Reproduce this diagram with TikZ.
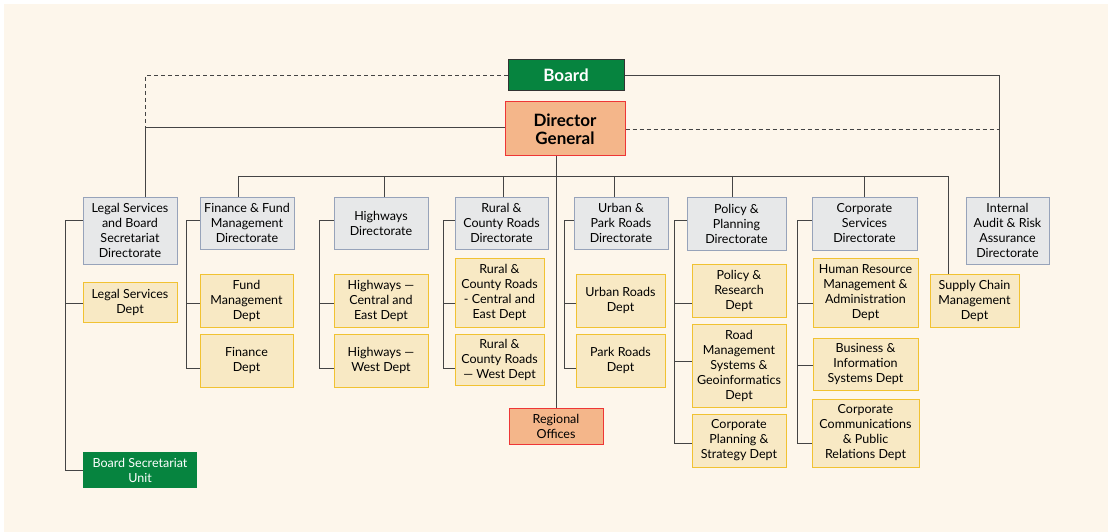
\documentclass[tikz,border=0pt]{standalone}
\usepackage{fontspec}
\setmainfont{Lato}
\usepackage{tikz}
\usetikzlibrary{positioning, calc}

\definecolor{cream}{HTML}{FDF6EB}
\definecolor{dirfill}{HTML}{E7E8E9}
\definecolor{dirline}{HTML}{97A3BA}
\definecolor{deptfill}{HTML}{F8E9C4}
\definecolor{deptline}{HTML}{F1C232}
\definecolor{dgfill}{HTML}{F4B68A}
\definecolor{dgline}{HTML}{EE3636}
\definecolor{boardgreen}{HTML}{06843F}
\definecolor{wire}{HTML}{444444}

\begin{document}
\begin{tikzpicture}[x=1pt, y=-1pt,
    every node/.style = {shape=rectangle, align=center, inner sep=1pt, font=\fontsize{12.5}{15}\selectfont},
    size/.style 2 args = {minimum width=#1pt, minimum height=#2pt},
    dir/.style = {draw=dirline, fill=dirfill, line width=1pt},
    dept/.style = {draw=deptline, fill=deptfill, line width=1pt},
    head/.style = {draw=dgline, fill=dgfill, line width=1pt},
    green/.style = {fill=boardgreen, text=white},
    wire/.style = {draw=wire, line width=0.9pt},
    dotline/.style = {dash pattern=on 4pt off 3pt}]
    \useasboundingbox (0,0) rectangle (1114,532);
    \fill[cream] (4,4) rectangle (1108,532);

    % top
    \node[green, draw=black!80, line width=1pt, size={116}{31}, font=\fontsize{17}{18}\selectfont\bfseries] (board) at (566,75.5) {Board};
    \node[head, size={120}{54}, font=\fontsize{17}{18}\selectfont\bfseries] (dg) at (565,129) {Director\\General};

    % directorates
    \node[dir, size={94}{67}] (legal) at (130,230.5) {Legal Services\\and Board\\Secretariat\\Directorate};
    \node[dir, size={94}{52}] (fin) at (247,223) {Finance \& Fund\\Management\\Directorate};
    \node[dir, size={94}{52}] (hwy) at (381,223) {Highways\\Directorate};
    \node[dir, size={93}{52}] (rural) at (501.5,223) {Rural \&\\County Roads\\Directorate};
    \node[dir, size={94}{52}] (urban) at (621,223) {Urban \&\\Park Roads\\Directorate};
    \node[dir, size={99}{53}] (policy) at (736.5,223.5) {Policy \&\\Planning\\Directorate};
    \node[dir, size={105}{53}] (corp) at (864.5,223.5) {Corporate\\Services\\Directorate};
    \node[dir, size={83}{67}] (audit) at (1007.5,230.5) {Internal\\Audit \& Risk\\Assurance\\Directorate};

    % departments
    \node[dept, size={94}{40}] (legaldept) at (130,302) {Legal Services\\Dept};
    \node[green, size={114}{36}] (bsu) at (140,470) {Board Secretariat\\Unit};
    \node[dept, size={93}{53}] (fund) at (246.5,300.5) {Fund\\Management\\Dept};
    \node[dept, size={93}{53}] (finance) at (246.5,360.5) {Finance\\Dept};
    \node[dept, size={94}{53}] (hwyce) at (381,300.5) {Highways —\\Central and\\East Dept};
    \node[dept, size={94}{53}] (hwyw) at (381,360.5) {Highways —\\West Dept};
    \node[dept, size={89}{69}] (rurce) at (499.5,292.5) {Rural \&\\County Roads\\- Central and\\East Dept};
    \node[dept, size={89}{51}] (rurw) at (499.5,359.5) {Rural \&\\County Roads\\— West Dept};
    \node[head, size={94}{36}] (regional) at (556,426) {Regional\\Offices};
    \node[dept, size={89}{53}] (urbanr) at (620.5,300.5) {Urban Roads\\Dept};
    \node[dept, size={89}{53}] (parkr) at (620.5,360.5) {Park Roads\\Dept};
    \node[dept, size={94}{53}] (polres) at (739,290.5) {Policy \&\\Research\\Dept};
    \node[dept, size={94}{83}] (rms) at (739,365.5) {Road\\Management\\Systems \&\\Geoinformatics\\Dept};
    \node[dept, size={94}{53}] (cps) at (739,440.5) {Corporate\\Planning \&\\Strategy Dept};
    \node[dept, size={105}{69}] (hr) at (865.5,292.5) {Human Resource\\Management \&\\Administration\\Dept};
    \node[dept, size={105}{52}] (bis) at (865.5,364) {Business \&\\Information\\Systems Dept};
    \node[dept, size={107}{68}] (ccpr) at (865.5,433) {Corporate\\Communications\\\& Public\\Relations Dept};
    \node[dept, size={89}{53}] (scm) at (974.5,300.5) {Supply Chain\\Management\\Dept};

    % joints
    \coordinate (lj) at (145,127);
    \coordinate (aj) at (999,197);
    \coordinate (bus) at (238,176);
    \coordinate (busend) at (948,176);
    \coordinate (row1) at (0,303);
    \coordinate (row2) at (0,368);
    \coordinate (arm) at (0,220);

    % board and director general
    \draw[wire, dotline] (board.west) -| (lj);
    \draw[wire] (lj -| dg.west) -- (lj) -- (lj |- legal.north);
    \draw[wire] (board.east) -| (aj);
    \draw[wire, dotline] (dg.east) -- (dg.east -| aj);
    \draw[wire] (regional.north |- dg.south) -- (regional.north);

    % bus to directorates
    \draw[wire] (bus) -- (busend) -- (busend |- scm.north);
    \draw[wire] (bus) -- (bus |- fin.north);
    \foreach \dx/\d in {384/hwy, 503/rural, 614/urban, 732/policy, 864/corp}
        \draw[wire] (\dx,176) -- (\dx,197);

    % brackets to departments
    \draw[wire] (legal.west |- arm) -| (65,470) -- (bsu.west);
    \draw[wire] (65,303) -- (legaldept.west |- row1);
    \draw[wire] (fin.west |- arm) -| (186,368) -- (finance.west |- row2);
    \draw[wire] (186,303) -- (fund.west |- row1);
    \draw[wire] (hwy.west |- arm) -| (319,368) -- (hwyw.west |- row2);
    \draw[wire] (319,303) -- (hwyce.west |- row1);
    \draw[wire] (rural.west |- arm) -| (443,368) -- (rurw.west |- row2);
    \draw[wire] (443,303) -- (rurce.west |- row1);
    \draw[wire] (urban.west |- arm) -| (564,368) -- (parkr.west |- row2);
    \draw[wire] (564,303) -- (urbanr.west |- row1);
    \draw[wire] (policy.west |- arm) -| (674,443) -- (cps.west |- 0,443);
    \draw[wire] (674,303) -- (polres.west |- row1);
    \draw[wire] (674,361) -- (rms.west |- 0,361);
    \draw[wire] (corp.west |- arm) -| (797,443) -- (ccpr.west |- 0,443);
    \draw[wire] (797,303) -- (hr.west |- row1);
    \draw[wire] (797,365) -- (bis.west |- 0,365);
\end{tikzpicture}
\end{document}
